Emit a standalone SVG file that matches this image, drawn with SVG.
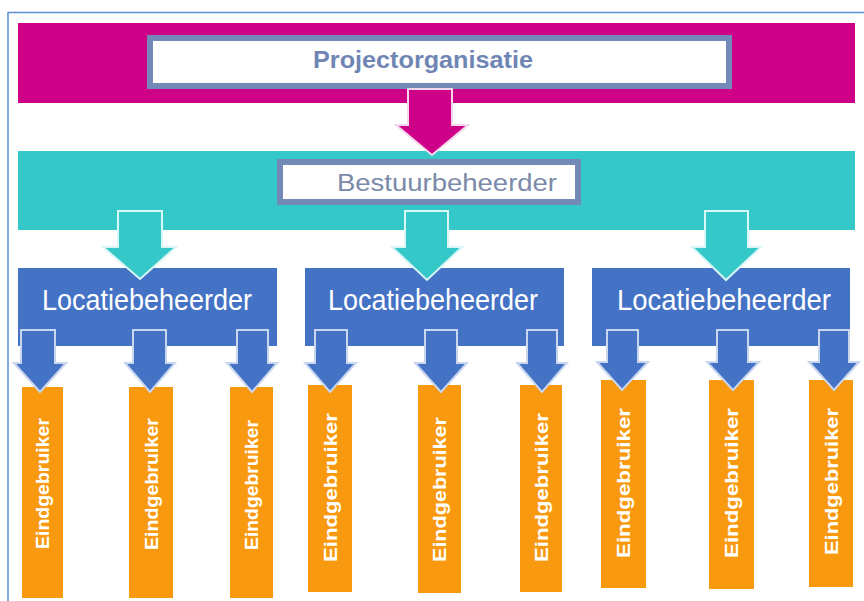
<svg xmlns="http://www.w3.org/2000/svg" width="864" height="601" viewBox="0 0 864 601">
<style>
.frame{fill:none;stroke:#5B8ED6;stroke-width:1.5}
.mag{fill:#CF0088}
.teal{fill:#34C8C8}
.blue{fill:#4472C4}
.org{fill:#F8990F}
.wbox{fill:#FFFFFF;stroke:#7389B8;stroke-width:6}
.t1{font-family:"Liberation Sans",Arial,sans-serif;font-weight:bold;font-size:24px;fill:#6F86B4}
.t2{font-family:"Liberation Sans",Arial,sans-serif;font-size:23px;fill:#7A8AA8}
.t3{font-family:"Liberation Sans",Arial,sans-serif;font-size:29px;fill:#FFFFFF}
.t4{font-family:"Liberation Sans",Arial,sans-serif;font-weight:bold;font-size:18px;fill:#FFFFFF}
.amag{fill:#CF0088;stroke:#F4D8EA;stroke-width:2}
.ateal{fill:#34C8C8;stroke:#D8F6F6;stroke-width:2}
.ablue{fill:#4472C4;stroke:#C9D6EF;stroke-width:2}
</style>
<path class="frame" d="M8,601 V12.5 H864"/>

<g id="projectorganisatie">
<rect class="mag" x="18" y="23" width="837" height="80"/>
<rect class="wbox" x="150" y="38" width="579" height="48"/>
<text class="t1" x="423" y="68" text-anchor="middle" textLength="220" lengthAdjust="spacingAndGlyphs">Projectorganisatie</text>
</g>

<g id="bestuurbeheerder">
<rect class="teal" x="18" y="151" width="837" height="79"/>
<rect class="wbox" x="280" y="162" width="298" height="40"/>
<text class="t2" x="447" y="191" text-anchor="middle" textLength="220" lengthAdjust="spacingAndGlyphs">Bestuurbeheerder</text>
</g>

<g id="locatie1">
<rect class="blue" x="18" y="268" width="259" height="78"/>
<text class="t3" x="147" y="310" text-anchor="middle" textLength="210" lengthAdjust="spacingAndGlyphs">Locatiebeheerder</text>
</g>
<g id="locatie2">
<rect class="blue" x="305" y="268" width="259" height="78"/>
<text class="t3" x="433" y="310" text-anchor="middle" textLength="210" lengthAdjust="spacingAndGlyphs">Locatiebeheerder</text>
</g>
<g id="locatie3">
<rect class="blue" x="592" y="268" width="258" height="78"/>
<text class="t3" x="724" y="310" text-anchor="middle" textLength="214" lengthAdjust="spacingAndGlyphs">Locatiebeheerder</text>
</g>

<g id="eind1-1"><rect class="org" x="22" y="387" width="41" height="211"/>
<text class="t4" transform="translate(49,549) rotate(-90)" textLength="131" lengthAdjust="spacingAndGlyphs">Eindgebruiker</text></g>
<g id="eind1-2"><rect class="org" x="129" y="387" width="44" height="211"/>
<text class="t4" transform="translate(158,550) rotate(-90)" textLength="132" lengthAdjust="spacingAndGlyphs">Eindgebruiker</text></g>
<g id="eind1-3"><rect class="org" x="230" y="387" width="43" height="211"/>
<text class="t4" transform="translate(258,550) rotate(-90)" textLength="130" lengthAdjust="spacingAndGlyphs">Eindgebruiker</text></g>

<g id="eind2-1"><rect class="org" x="308" y="385" width="44" height="207"/>
<text class="t4" transform="translate(337,562) rotate(-90)" textLength="149" lengthAdjust="spacingAndGlyphs">Eindgebruiker</text></g>
<g id="eind2-2"><rect class="org" x="418" y="385" width="43" height="208"/>
<text class="t4" transform="translate(446,562) rotate(-90)" textLength="145" lengthAdjust="spacingAndGlyphs">Eindgebruiker</text></g>
<g id="eind2-3"><rect class="org" x="520" y="385" width="42" height="207"/>
<text class="t4" transform="translate(548,562) rotate(-90)" textLength="149" lengthAdjust="spacingAndGlyphs">Eindgebruiker</text></g>

<g id="eind3-1"><rect class="org" x="601" y="380" width="45" height="208"/>
<text class="t4" transform="translate(630,558) rotate(-90)" textLength="150" lengthAdjust="spacingAndGlyphs">Eindgebruiker</text></g>
<g id="eind3-2"><rect class="org" x="709" y="380" width="45" height="209"/>
<text class="t4" transform="translate(738,558) rotate(-90)" textLength="150" lengthAdjust="spacingAndGlyphs">Eindgebruiker</text></g>
<g id="eind3-3"><rect class="org" x="809" y="380" width="44" height="207"/>
<text class="t4" transform="translate(838,555) rotate(-90)" textLength="147" lengthAdjust="spacingAndGlyphs">Eindgebruiker</text></g>

<g id="connectors">
<polygon class="amag" points="408,89 452,89 452,125 468,125 432,155 396,125 408,125"/>
<polygon class="ateal" points="118,211 162,211 162,247 176,247 140,279 103,247 118,247"/>
<polygon class="ateal" points="405,211 448,211 448,247 462,247 427,280 392,247 405,247"/>
<polygon class="ateal" points="705,211 748,211 748,247 761,247 726,280 692,247 705,247"/>

<polygon class="ablue" points="21,330 55,330 55,363 66,363 40,392 14,363 21,363"/>
<polygon class="ablue" points="133,330 166,330 166,363 175,363 150,392 125,363 133,363"/>
<polygon class="ablue" points="237,330 268,330 268,363 277,363 252,392 227,363 237,363"/>

<polygon class="ablue" points="315,330 347,330 347,363 356,363 330,392 305,363 315,363"/>
<polygon class="ablue" points="425,330 457,330 457,363 467,363 441,392 415,363 425,363"/>
<polygon class="ablue" points="527,330 557,330 557,363 567,363 542,392 517,363 527,363"/>

<polygon class="ablue" points="607,330 638,330 638,362 648,362 622,390 597,362 607,362"/>
<polygon class="ablue" points="717,330 748,330 748,362 759,362 733,390 707,362 717,362"/>
<polygon class="ablue" points="819,330 849,330 849,362 859,362 834,390 809,362 819,362"/>
</g>
</svg>
